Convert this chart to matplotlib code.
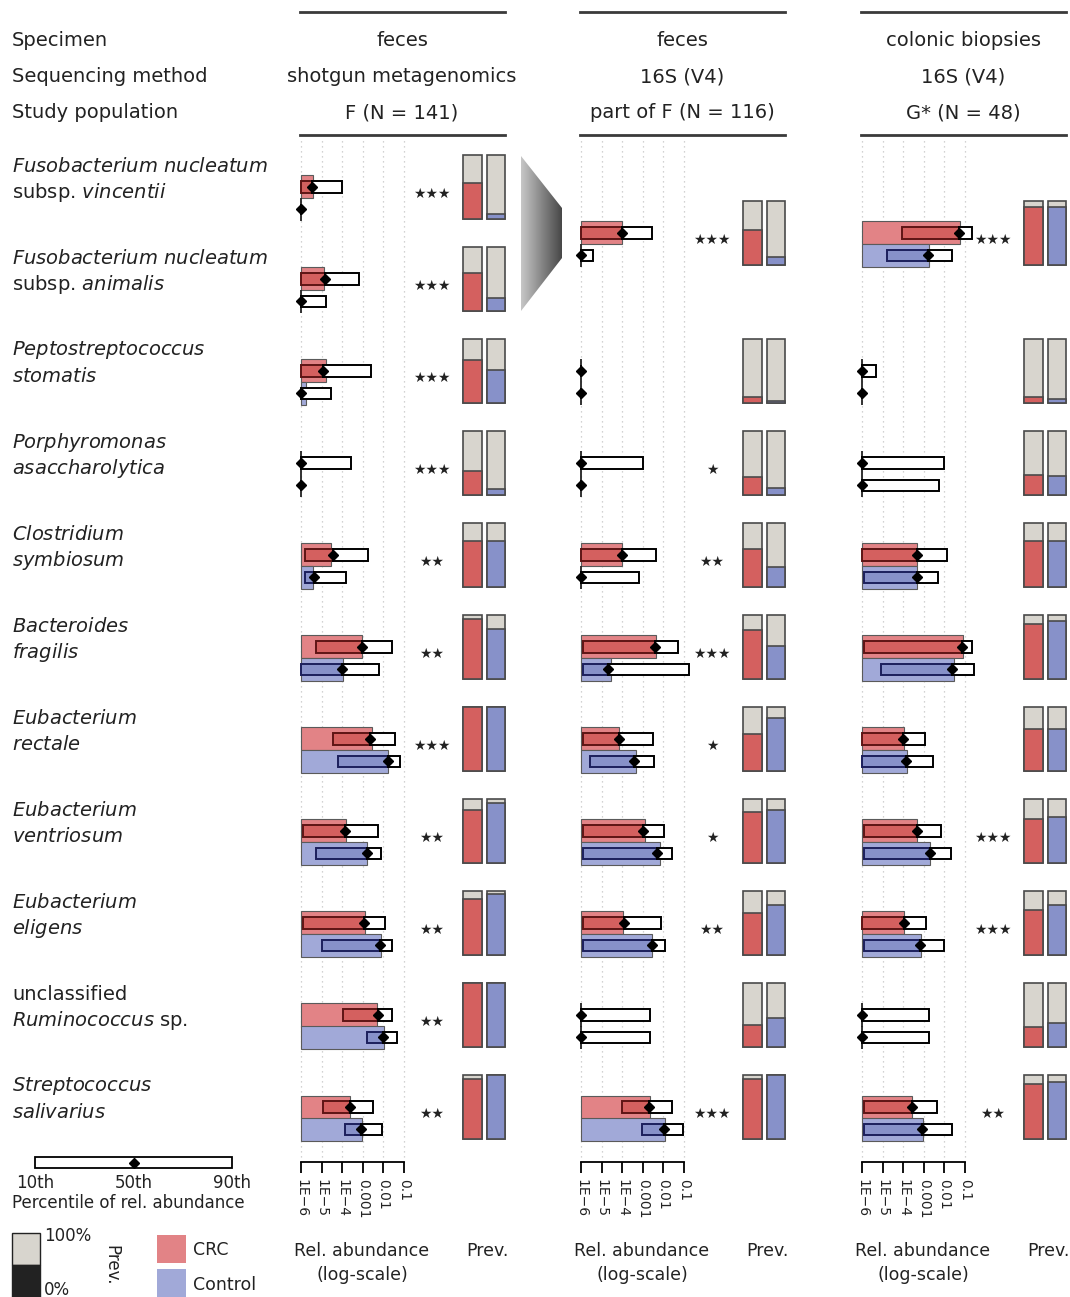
import numpy as np
import matplotlib
matplotlib.use('Agg')
import matplotlib.pyplot as plt
from matplotlib.patches import Rectangle, Polygon
from matplotlib.ticker import NullLocator
from matplotlib.transforms import blended_transform_factory

plt.rcParams['font.family'] = 'DejaVu Sans'
plt.rcParams['mathtext.fontset'] = 'dejavusans'

# species labels (two lines each, italics via mathtext)
SPECIES = [
    (r'$\mathit{Fusobacterium\ nucleatum}$', r'subsp. $\mathit{vincentii}$'),
    (r'$\mathit{Fusobacterium\ nucleatum}$', r'subsp. $\mathit{animalis}$'),
    (r'$\mathit{Peptostreptococcus}$', r'$\mathit{stomatis}$'),
    (r'$\mathit{Porphyromonas}$', r'$\mathit{asaccharolytica}$'),
    (r'$\mathit{Clostridium}$', r'$\mathit{symbiosum}$'),
    (r'$\mathit{Bacteroides}$', r'$\mathit{fragilis}$'),
    (r'$\mathit{Eubacterium}$', r'$\mathit{rectale}$'),
    (r'$\mathit{Eubacterium}$', r'$\mathit{ventriosum}$'),
    (r'$\mathit{Eubacterium}$', r'$\mathit{eligens}$'),
    ('unclassified', r'$\mathit{Ruminococcus}$ sp.'),
    (r'$\mathit{Streptococcus}$', r'$\mathit{salivarius}$'),
]

HEADER_ROWS = ['Specimen', 'Sequencing method', 'Study population']
HEADERS = [
    ('feces', 'shotgun metagenomics', 'F (N = 141)'),
    ('feces', '16S (V4)', 'part of F (N = 116)'),
    ('colonic biopsies', '16S (V4)', 'G* (N = 48)'),
]

TICKS = [1e-6, 1e-5, 1e-4, 1e-3, 1e-2, 1e-1]
TICK_LABELS = ['1E\u22126', '1E\u22125', '1E\u22124', '0.001', '0.01', '0.1']

# row positions; the two F. nucleatum subspecies are merged in 16S data
ROWS_SG = [0, 1, 2, 3, 4, 5, 6, 7, 8, 9, 10]
ROWS_16S = [0.5, 2, 3, 4, 5, 6, 7, 8, 9, 10]

# shotgun metagenomics, feces (log10 rel. abundance)
SG_CRC_MEAN = [-5.43, -4.87, -4.8, -6, -4.54, -3.05, -2.55, -3.82, -2.9, -2.3, -3.62]
SG_CRC_P10 = [-6, -6, -6, -6, -5.8, -5.29, -4.45, -5.9, -5.9, -3.95, -4.92]
SG_CRC_P50 = [-5.48, -4.83, -4.93, -6, -4.45, -3.05, -2.65, -3.86, -2.94, -2.28, -3.62]
SG_CRC_P90 = [-4.02, -3.18, -2.6, -3.57, -2.75, -1.6, -1.44, -2.26, -1.92, -1.6, -2.49]
SG_CTR_MEAN = [-6, -6, -5.75, -6, -5.42, -3.95, -1.78, -2.8, -2.12, -1.97, -3.05]
SG_CTR_P10 = [-6, -6, -6, -6, -5.8, -6, -4.2, -5.27, -4.98, -2.78, -3.86]
SG_CTR_P50 = [-6, -6, -6, -6, -5.37, -4.02, -1.78, -2.8, -2.17, -2.0, -3.1]
SG_CTR_P90 = [-6, -4.79, -4.54, -6, -3.82, -2.2, -1.19, -2.12, -1.58, -1.33, -2.08]
SG_CRC_PREV = [0.56, 0.59, 0.67, 0.37, 0.72, 0.94, 1.0, 0.83, 0.88, 1.0, 0.94]
SG_CTR_PREV = [0.08, 0.2, 0.52, 0.1, 0.71, 0.78, 1.0, 0.94, 0.95, 1.0, 1.0]
SG_STARS = ['***', '***', '***', '***', '**', '**', '***', '**', '**', '**', '**']

# 16S (V4), feces
FE_CRC_MEAN = [-4.0, -6, -6, -4.0, -2.36, -4.16, -2.9, -3.96, -6, -2.65]
FE_CRC_P10 = [-6, -6, -6, -6, -5.9, -5.9, -5.9, -5.9, -6, -4.0]
FE_CRC_P50 = [-4.03, -6, -6, -4.0, -2.4, -4.16, -2.99, -3.9, -6, -2.7]
FE_CRC_P90 = [-2.57, -6, -3.0, -2.36, -1.29, -2.5, -1.97, -2.12, -2.65, -1.58]
FE_CTR_MEAN = [-6, -6, -6, -6, -4.54, -3.33, -2.17, -2.55, -6, -1.92]
FE_CTR_P10 = [-6, -6, -6, -6, -5.9, -5.56, -5.9, -5.9, -6, -3.03]
FE_CTR_P50 = [-6, -6, -6, -6, -4.69, -3.43, -2.31, -2.55, -6, -1.97]
FE_CTR_P90 = [-5.4, -6, -6, -3.18, -0.76, -2.46, -1.58, -1.92, -2.65, -1.05]
FE_CRC_PREV = [0.54, 0.1, 0.28, 0.6, 0.77, 0.58, 0.8, 0.65, 0.35, 0.94]
FE_CTR_PREV = [0.13, 0.03, 0.11, 0.31, 0.52, 0.82, 0.83, 0.78, 0.46, 1.0]
FE_STARS = ['***', '', '*', '**', '***', '*', '*', '**', '', '***']

# 16S (V4), colonic biopsies
BI_CRC_MEAN = [-1.26, -6, -6, -3.33, -1.1, -3.96, -3.33, -3.96, -6, -3.57]
BI_CRC_P10 = [-4.06, -6, -6, -6, -5.9, -6, -5.9, -6, -6, -5.9]
BI_CRC_P50 = [-1.3, -6, -6, -3.33, -1.15, -4.0, -3.33, -3.96, -6, -3.57]
BI_CRC_P90 = [-0.65, -5.3, -2.0, -1.87, -0.66, -2.94, -2.17, -2.9, -2.75, -2.36]
BI_CTR_MEAN = [-2.75, -6, -6, -3.33, -1.53, -3.82, -2.7, -3.14, -6, -3.04]
BI_CTR_P10 = [-4.8, -6, -6, -5.9, -5.08, -6, -5.9, -5.9, -6, -5.9]
BI_CTR_P50 = [-2.78, -6, -6, -3.33, -1.63, -3.85, -2.7, -3.18, -6, -3.09]
BI_CTR_P90 = [-1.65, -6, -2.26, -2.3, -0.56, -2.55, -1.68, -2.0, -2.75, -1.63]
BI_CRC_PREV = [0.9, 0.1, 0.32, 0.72, 0.85, 0.65, 0.68, 0.7, 0.32, 0.85]
BI_CTR_PREV = [0.9, 0.07, 0.3, 0.71, 0.9, 0.65, 0.72, 0.78, 0.38, 0.89]
BI_STARS = ['***', '', '', '', '', '', '***', '***', '', '**']

CRC = '#d4605f'
CRC_LIGHT = '#e28386'
CRC_DARK = '#5e1414'
CTR = '#8791c9'
CTR_LIGHT = '#a1a9d8'
CTR_DARK = '#1c1f5c'
GREY = '#d8d5ce'

W, H = 1070, 1297
fig = plt.figure(figsize=(W / 100, H / 100), dpi=100)

# pixel-coordinate layer for headers, labels and legend
bg = fig.add_axes([0, 0, 1, 1])

ROW_Y0, ROW_DY = 187, 92
Y_TOP, Y_BOT = 140, 1162
DECADE = 20.6
PAD = 6  # px of room left of the 1E-6 baseline
PANEL_X0 = [301, 581, 862]


def px_axes(x0, y0, x1, y1):
    return fig.add_axes([x0 / W, 1 - y1 / H, (x1 - x0) / W, (y1 - y0) / H])


def row_limits(a):
    a.set_ylim((Y_BOT - ROW_Y0) / ROW_DY, (Y_TOP - ROW_Y0) / ROW_DY)


def draw_group(ax, y, mean, p10, p50, p90, light, fill, dark):
    if mean <= -6:
        # nothing above detection limit: just a tick on the baseline
        ax.vlines(1e-6, y - 0.125, y + 0.125, color='#222222', lw=1.3, zorder=2)
    else:
        ax.barh(y, 10.0 ** mean - 1e-6, left=1e-6, height=0.25, color=light,
                edgecolor='#5a5a5a', linewidth=0.8, zorder=2)
    ax.barh(y, 10.0 ** p50 - 10.0 ** p10, left=10.0 ** p10, height=0.12,
            color=fill, edgecolor=dark, linewidth=1.4, zorder=3)
    ax.barh(y, 10.0 ** p90 - 10.0 ** p50, left=10.0 ** p50, height=0.12,
            color='white', edgecolor='black', linewidth=1.4, zorder=3)
    ax.plot(10.0 ** p50, y, marker='D', ms=5.5, color='black', zorder=4)


panels = [
    (ROWS_SG, SG_CRC_MEAN, SG_CRC_P10, SG_CRC_P50, SG_CRC_P90,
     SG_CTR_MEAN, SG_CTR_P10, SG_CTR_P50, SG_CTR_P90,
     SG_CRC_PREV, SG_CTR_PREV, SG_STARS),
    (ROWS_16S, FE_CRC_MEAN, FE_CRC_P10, FE_CRC_P50, FE_CRC_P90,
     FE_CTR_MEAN, FE_CTR_P10, FE_CTR_P50, FE_CTR_P90,
     FE_CRC_PREV, FE_CTR_PREV, FE_STARS),
    (ROWS_16S, BI_CRC_MEAN, BI_CRC_P10, BI_CRC_P50, BI_CRC_P90,
     BI_CTR_MEAN, BI_CTR_P10, BI_CTR_P50, BI_CTR_P90,
     BI_CRC_PREV, BI_CTR_PREV, BI_STARS),
]

for x0, head, (rows, cm, c10, c50, c90, km, k10, k50, k90, cprev, kprev, stars) in zip(PANEL_X0, HEADERS, panels):
    # abundance panel (log scale)
    ax = px_axes(x0 - PAD, Y_TOP, x0 + 125, Y_BOT)
    ax.set_xscale('log')
    ax.set_xlim(10 ** (-6 - PAD / DECADE), 10 ** (-6 + 125 / DECADE))
    row_limits(ax)
    ax.patch.set_alpha(0)
    for s in ['top', 'right', 'left']:
        ax.spines[s].set_visible(False)
    ax.spines['bottom'].set_bounds(1e-6, 0.1)
    ax.spines['bottom'].set_linewidth(1.3)
    ax.set_yticks([])
    ax.set_xticks(TICKS)
    ax.set_xticklabels(TICK_LABELS, rotation=-90, fontsize=10, color='#222222')
    ax.xaxis.set_minor_locator(NullLocator())
    ax.tick_params(axis='x', length=8, width=1.3, pad=4)
    ax.grid(axis='x', linestyle=(0, (1, 3)), color='#c4c4c4', linewidth=0.9)
    ax.set_axisbelow(True)

    star_tr = blended_transform_factory(ax.transAxes, ax.transData)
    star_x = (131 + PAD) / (125 + PAD)
    for i, r in enumerate(rows):
        draw_group(ax, r, cm[i], c10[i], c50[i], c90[i], CRC_LIGHT, CRC, CRC_DARK)
        draw_group(ax, r + 0.24, km[i], k10[i], k50[i], k90[i], CTR_LIGHT, CTR, CTR_DARK)
        if stars[i]:
            ax.text(star_x, r + 0.08, '\u2605' * len(stars[i]), transform=star_tr,
                    ha='center', va='center', fontsize=10, color='#222222')

    # prevalence panel
    pa = px_axes(x0 + 157.4, Y_TOP, x0 + 209.1, Y_BOT)
    pa.set_xlim(-0.6, 1.6)
    row_limits(pa)
    pa.axis('off')
    for i, r in enumerate(rows):
        for xi, prev, col in [(0, cprev[i], CRC), (1, kprev[i], CTR)]:
            pa.bar(xi, 0.7, bottom=r - 0.35, width=0.77, color=GREY,
                   edgecolor='#4a4a4a', linewidth=1.2)
            pa.bar(xi, prev * 0.7, bottom=r + 0.35 - prev * 0.7, width=0.77,
                   color=col, edgecolor='#4a4a4a', linewidth=1.2)

    # header block
    cx = x0 + 101
    bg.plot([x0 - 1, x0 + 204], [12, 12], color='#3a3a3a', lw=2)
    bg.plot([x0 - 1, x0 + 204], [135, 135], color='#3a3a3a', lw=2)
    for txt, yy in zip(head, [40, 77, 113]):
        bg.text(cx, yy, txt, ha='center', va='center', fontsize=14, color='#222222')
    bg.text(x0 + 61, 1251, 'Rel. abundance', ha='center', va='center', fontsize=12.5, color='#222222')
    bg.text(x0 + 61, 1275, '(log-scale)', ha='center', va='center', fontsize=12.5, color='#222222')
    bg.text(x0 + 186, 1251, 'Prev.', ha='center', va='center', fontsize=12.5, color='#222222')

for txt, yy in zip(HEADER_ROWS, [40, 77, 113]):
    bg.text(12, yy, txt, ha='left', va='center', fontsize=14, color='#222222')

for i, (l1, l2) in enumerate(SPECIES):
    yc = ROW_Y0 + ROW_DY * ROWS_SG[i]
    bg.text(12, yc - 21, l1, ha='left', va='center', fontsize=14, color='#222222')
    bg.text(12, yc + 6, l2, ha='left', va='center', fontsize=14, color='#222222')

# shaded wedge linking the two F. nucleatum rows to the merged 16S row
grad = np.linspace(0.78, 0.28, 256).reshape(1, -1)
im = bg.imshow(grad, cmap='gray', vmin=0, vmax=1, extent=[521, 562, 311, 156],
               aspect='auto', interpolation='bilinear')
wedge = Polygon([[521, 156], [562, 208], [562, 258], [521, 311]], closed=True,
                facecolor='none', edgecolor='none')
bg.add_patch(wedge)
im.set_clip_path(wedge)

# legend: percentile key
bg.add_patch(Rectangle((35, 1157), 197, 11, facecolor='white', edgecolor='black', lw=1.3))
bg.plot(134, 1162.5, marker='D', ms=5.5, color='black')
for xx, txt in [(35, '10th'), (134, '50th'), (232, '90th')]:
    bg.text(xx, 1183, txt, ha='center', va='center', fontsize=12, color='#222222')
bg.text(12, 1203, 'Percentile of rel. abundance', ha='left', va='center', fontsize=12, color='#222222')

# legend: prevalence scale and groups
bg.add_patch(Rectangle((12, 1233), 28, 32, facecolor=GREY, edgecolor='#222222', lw=1))
bg.add_patch(Rectangle((12, 1265), 28, 32, facecolor='#222222', edgecolor='#222222', lw=1))
bg.text(44, 1236, '100%', ha='left', va='center', fontsize=12, color='#222222')
bg.text(44, 1290, '0%', ha='left', va='center', fontsize=12, color='#222222')
bg.text(111, 1265, 'Prev.', ha='center', va='center', rotation=-90, fontsize=12, color='#222222')
bg.add_patch(Rectangle((157, 1235), 29, 28, facecolor=CRC_LIGHT, edgecolor='none'))
bg.add_patch(Rectangle((157, 1269), 29, 28, facecolor=CTR_LIGHT, edgecolor='none'))
bg.text(193, 1250, 'CRC', ha='left', va='center', fontsize=12.5, color='#222222')
bg.text(193, 1285, 'Control', ha='left', va='center', fontsize=12.5, color='#222222')

bg.set_xlim(0, W)
bg.set_ylim(H, 0)
bg.axis('off')

fig.savefig('out.png', dpi=100)
